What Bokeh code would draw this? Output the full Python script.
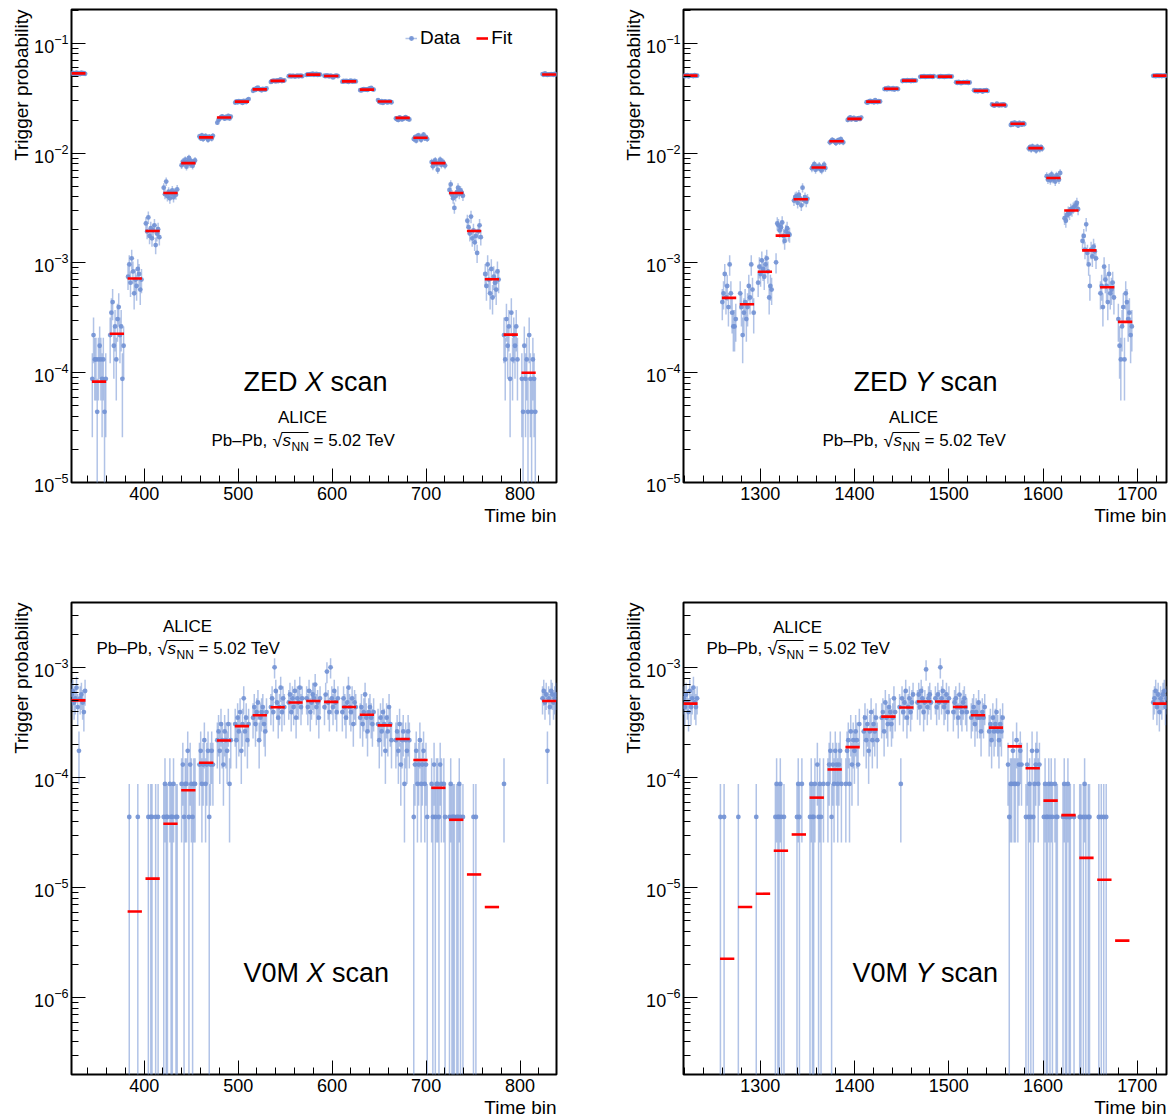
import math
from bokeh.plotting import figure
from bokeh.layouts import column, row
from bokeh.models import (ColumnDataSource, Label, Legend, LegendItem, FixedTicker,
                          SingleIntervalTicker, Range1d, Title)
from bokeh.embed import file_html
from bokeh.resources import INLINE

FONT = "Liberation Sans"
BLUE = "#7191d4"
RED = "#ff0000"

# one trigger count expressed as probability (value = counts * COUNT_UNIT)
COUNT_UNIT = 4.4e-5
BINS_PER_STEP = 12
BIN_PITCH = 1.3

# ------------------------------------------------------------------ data
# ZED X scan (first and last entries: reference head-on steps)
zedx_centers = [330, 352, 371, 390, 409, 428, 447, 466, 485, 504, 523, 542, 561, 580,
                599, 618, 637, 656, 675, 694, 713, 732, 751, 770, 790, 809, 831]
zedx_fit = [0.0532, 8.3e-5, 2.26e-4, 7.2e-4, 1.95e-3, 4.33e-3, 8.1e-3, 1.39e-2, 2.11e-2,
            2.94e-2, 3.80e-2, 4.54e-2, 5.03e-2, 5.18e-2, 5.03e-2, 4.50e-2, 3.78e-2,
            2.95e-2, 2.09e-2, 1.38e-2, 8.1e-3, 4.33e-3, 1.95e-3, 7.1e-4, 2.22e-4, 1.0e-4, 0.052]
zedx_counts = [
    [1195, 1220, 1210, 1185, 1230, 1205, 1215, 1190, 1225, 1200, 1212, 1198],
    [2, 5, 3, 3, 1, 3, 4, 3, 2, 3, 1, 2],
    [5, 8, 10, 4, 6, 3, 7, 9, 5, 6, 2, 4],
    [17, 22, 15, 25, 19, 12, 16, 14, 20, 18, 13, 16],
    [52, 44, 59, 40, 47, 38, 45, 50, 33, 42, 46, 39],
    [110, 96, 125, 92, 101, 88, 97, 104, 90, 99, 95, 106],
    [176, 190, 184, 198, 171, 188, 205, 180, 192, 174, 186, 195],
    [322, 310, 330, 305, 318, 325, 312, 300, 320, 314, 308, 326],
    [430, 455, 470, 482, 490, 478, 468, 485, 475, 495, 470, 488],
    [655, 670, 660, 675, 665, 672, 650, 680, 668, 662, 690, 705],
    [840, 870, 855, 885, 895, 870, 860, 848, 875, 865, 858, 880],
    [1010, 1025, 1040, 1035, 1020, 1045, 1030, 1050, 1065, 1028, 1038, 1042],
    [1140, 1150, 1135, 1145, 1148, 1130, 1142, 1155, 1138, 1145, 1150, 1140],
    [1170, 1185, 1175, 1190, 1180, 1200, 1175, 1185, 1195, 1170, 1180, 1178],
    [1150, 1140, 1160, 1145, 1135, 1150, 1142, 1110, 1138, 1148, 1155, 1140],
    [1015, 1030, 1020, 1035, 1025, 1010, 1028, 1040, 1018, 1022, 1030, 1020],
    [850, 845, 862, 870, 858, 865, 855, 872, 880, 890, 868, 860],
    [690, 665, 660, 675, 650, 668, 672, 662, 658, 670, 665, 660],
    [470, 462, 455, 480, 472, 460, 468, 475, 482, 470, 465, 460],
    [305, 318, 295, 325, 330, 312, 300, 320, 335, 310, 318, 305],
    [188, 172, 190, 195, 180, 160, 185, 198, 178, 190, 182, 175],
    [105, 118, 95, 88, 72, 92, 100, 110, 96, 104, 99, 93],
    [55, 48, 42, 60, 38, 45, 35, 40, 28, 44, 50, 39],
    [18, 14, 22, 16, 12, 20, 11, 17, 15, 13, 19, 16],
    [5, 3, 7, 4, 6, 2, 8, 3, 5, 4, 6, 3],
    [2, 1, 4, 2, 3, 1, 5, 2, 1, 3, 2, 1],
    [1190, 1175, 1205, 1180, 1170, 1185, 1178, 1190, 1182, 1175, 1195, 1180],
]

# ZED Y scan
zedy_centers = [1226, 1267, 1286, 1305, 1324, 1343, 1362, 1381, 1400, 1420, 1439, 1458, 1477,
                1496, 1515, 1534, 1553, 1573, 1592, 1611, 1630, 1649, 1668, 1687, 1724]
zedy_fit = [0.0507, 4.8e-4, 4.2e-4, 8.3e-4, 1.77e-3, 3.8e-3, 7.4e-3, 1.28e-2, 2.05e-2, 2.94e-2,
            3.85e-2, 4.57e-2, 4.97e-2, 4.97e-2, 4.4e-2, 3.7e-2, 2.75e-2, 1.85e-2, 1.11e-2,
            5.93e-3, 3.0e-3, 1.3e-3, 6.0e-4, 2.9e-4, 0.0507]
zedy_counts = [
    [1150, 1140, 1160, 1165, 1138, 1148, 1155, 1150, 1142, 1162, 1148, 1152],
    [10, 12, 18, 11, 14, 9, 22, 12, 8, 6, 6, 7],
    [12, 9, 5, 8, 10, 7, 9, 14, 11, 22, 13, 8],
    [15, 21, 18, 24, 20, 17, 22, 25, 19, 11, 14, 13],
    [23, 52, 50, 45, 48, 53, 40, 36, 44, 47, 42, 41],
    [84, 90, 92, 80, 95, 88, 76, 110, 85, 90, 82, 87],
    [165, 172, 180, 160, 170, 168, 175, 162, 158, 170, 178, 166],
    [285, 290, 300, 295, 288, 280, 292, 298, 286, 305, 290, 285],
    [455, 470, 480, 460, 468, 475, 462, 458, 470, 472, 465, 478],
    [660, 655, 670, 680, 665, 672, 660, 690, 668, 662, 675, 670],
    [870, 880, 865, 890, 872, 878, 868, 885, 860, 875, 880, 870],
    [1030, 1045, 1040, 1035, 1050, 1038, 1042, 1030, 1048, 1036, 1044, 1040],
    [1125, 1135, 1128, 1140, 1122, 1130, 1135, 1128, 1140, 1132, 1125, 1138],
    [1130, 1125, 1140, 1135, 1128, 1122, 1135, 1130, 1138, 1142, 1128, 1132],
    [1005, 990, 1010, 1000, 985, 995, 1008, 1002, 996, 1012, 990, 1000],
    [850, 835, 845, 830, 840, 848, 838, 825, 845, 840, 852, 836],
    [630, 620, 615, 625, 640, 622, 618, 628, 620, 632, 626, 615],
    [410, 425, 415, 430, 418, 422, 405, 428, 420, 412, 425, 418],
    [250, 258, 245, 262, 248, 255, 240, 260, 252, 246, 258, 250],
    [140, 130, 138, 128, 145, 132, 135, 125, 142, 138, 130, 150],
    [58, 55, 62, 66, 64, 70, 68, 72, 74, 76, 80, 70],
    [36, 40, 30, 51, 28, 22, 14, 30, 26, 32, 29, 25],
    [12, 14, 9, 21, 16, 14, 10, 18, 12, 13, 15, 11],
    [7, 4, 3, 6, 9, 3, 12, 10, 7, 8, 5, 6],
    [1148, 1155, 1140, 1160, 1150, 1145, 1158, 1142, 1152, 1148, 1156, 1150],
]

# V0M X scan (None: no fit drawn)
v0mx_centers = zedx_centers
v0mx_fit = [5.06e-4, None, None, 6.08e-6, 1.21e-5, 3.82e-5, 7.7e-5, 1.37e-4, 2.18e-4, 2.95e-4,
            3.7e-4, 4.38e-4, 4.84e-4, 5.0e-4, 4.9e-4, 4.4e-4, 3.75e-4, 3.0e-4, 2.25e-4,
            1.45e-4, 8.1e-5, 4.15e-5, 1.32e-5, 6.67e-6, None, None, 5.0e-4]
v0mx_counts = [
    [13, 14, 11, 12, 15, 10, 4, 12, 13, 11, 9, 14],
    [0, 0, 0, 0, 0, 0, 0, 0, 0, 0, 0, 0],
    [0, 0, 0, 0, 0, 0, 0, 0, 0, 0, 0, 0],
    [0, 1, 0, 0, 0, 0, 0, 0, 1, 0, 0, 0],
    [0, 0, 1, 0, 1, 1, 0, 0, 1, 0, 1, 0],
    [1, 2, 1, 1, 0, 2, 1, 1, 2, 0, 1, 1],
    [2, 3, 1, 2, 2, 4, 1, 3, 2, 1, 2, 2],
    [3, 4, 2, 3, 5, 2, 3, 4, 1, 3, 4, 3],
    [5, 6, 4, 7, 5, 3, 6, 5, 4, 7, 2, 5],
    [7, 5, 8, 6, 9, 4, 7, 12, 6, 8, 5, 7],
    [8, 10, 7, 9, 11, 5, 8, 9, 10, 7, 6, 9],
    [10, 12, 9, 23, 14, 11, 8, 10, 15, 9, 12, 10],
    [11, 13, 9, 12, 10, 14, 8, 12, 11, 15, 10, 12],
    [12, 10, 14, 9, 11, 13, 12, 16, 10, 11, 8, 12],
    [10, 13, 21, 11, 9, 23, 12, 10, 14, 11, 9, 12],
    [9, 12, 10, 8, 11, 15, 10, 9, 12, 7, 11, 10],
    [8, 10, 7, 9, 13, 8, 6, 9, 10, 8, 7, 9],
    [7, 5, 8, 6, 9, 7, 4, 8, 6, 10, 7, 5],
    [5, 6, 4, 7, 3, 5, 6, 2, 5, 4, 6, 5],
    [1, 3, 4, 2, 3, 5, 2, 3, 4, 2, 3, 1],
    [2, 1, 3, 1, 2, 2, 1, 3, 2, 0, 2, 1],
    [1, 2, 1, 1, 1, 0, 1, 1, 2, 1, 0, 1],
    [0, 0, 0, 0, 0, 1, 0, 1, 0, 0, 0, 0],
    [0, 0, 0, 0, 0, 0, 0, 0, 0, 0, 0, 0],
    [2, 0, 0, 0, 0, 0, 0, 0, 0, 0, 0, 0],
    [0, 0, 0, 0, 0, 0, 0, 0, 0, 0, 0, 0],
    [12, 14, 11, 13, 4, 12, 10, 14, 13, 11, 12, 13],
]

# V0M Y scan
v0my_centers = [1226, 1265, 1284, 1303, 1322, 1341, 1360, 1379, 1398, 1417, 1436, 1455, 1474,
                1493, 1512, 1531, 1550, 1570, 1589, 1608, 1627, 1646, 1665, 1684, 1724]
v0my_fit = [4.73e-4, 2.26e-6, 6.68e-6, 8.82e-6, 2.17e-5, 3.05e-5, 6.6e-5, 1.19e-4, 1.9e-4,
            2.75e-4, 3.6e-4, 4.36e-4, 4.94e-4, 4.94e-4, 4.4e-4, 3.7e-4, 2.86e-4, 1.93e-4,
            1.22e-4, 6.2e-5, 4.57e-5, 1.87e-5, 1.18e-5, 3.3e-6, 4.73e-4]
v0my_counts = [
    [12, 10, 13, 11, 9, 14, 10, 12, 15, 11, 10, 12],
    [1, 0, 0, 1, 0, 0, 0, 0, 0, 0, 0, 0],
    [1, 0, 0, 0, 0, 0, 0, 0, 0, 0, 0, 0],
    [1, 0, 0, 0, 0, 0, 0, 0, 0, 0, 0, 0],
    [0, 1, 2, 1, 1, 2, 1, 0, 1, 0, 0, 0],
    [0, 0, 0, 0, 1, 2, 1, 0, 2, 0, 0, 0],
    [1, 2, 1, 1, 2, 0, 3, 1, 2, 1, 0, 2],
    [2, 3, 4, 1, 3, 2, 4, 3, 2, 3, 4, 2],
    [2, 4, 5, 2, 6, 3, 5, 4, 6, 5, 3, 7],
    [6, 8, 5, 7, 4, 6, 9, 5, 7, 6, 8, 5],
    [8, 9, 6, 11, 8, 7, 10, 9, 7, 8, 12, 9],
    [10, 2, 12, 9, 11, 14, 8, 10, 12, 9, 11, 13],
    [11, 13, 10, 14, 12, 9, 11, 22, 10, 12, 13, 11],
    [12, 10, 13, 11, 23, 12, 14, 10, 11, 13, 9, 12],
    [9, 11, 12, 10, 8, 13, 10, 9, 11, 12, 10, 9],
    [8, 9, 10, 7, 9, 8, 11, 8, 6, 9, 8, 10],
    [6, 7, 5, 8, 6, 7, 9, 6, 5, 7, 6, 8],
    [3, 1, 2, 2, 4, 2, 2, 5, 2, 3, 4, 3],
    [1, 3, 1, 2, 1, 4, 1, 2, 3, 4, 2, 3],
    [1, 2, 1, 1, 2, 1, 2, 1, 0, 2, 1, 1],
    [0, 1, 2, 1, 1, 2, 1, 1, 0, 0, 1, 0],
    [1, 1, 0, 1, 2, 1, 0, 1, 1, 0, 0, 0],
    [0, 1, 0, 1, 0, 1, 0, 1, 0, 0, 0, 0],
    [0, 0, 0, 0, 0, 0, 0, 0, 0, 0, 0, 0],
    [11, 12, 14, 10, 13, 9, 12, 11, 13, 14, 10, 12],
]

# axes
x_range_x = (322.7, 838.7)
x_range_y = (1218.7, 1730.9)
y_range_zed = (1e-5, 0.203)
y_range_v0m = (2.0e-7, 3.93e-3)
y_major_zed = [1e-5, 1e-4, 1e-3, 1e-2, 1e-1]
y_major_v0m = [1e-6, 1e-5, 1e-4, 1e-3]
x_title = "Time bin"
y_title = "Trigger probability"

BASELINE_SHIFT = 0.33   # Bokeh places the alphabetic baseline this many em lower


class Geom:
    def __init__(self, left, top, fw, fh, xr, yr):
        self.left, self.top, self.fw, self.fh = left, top, fw, fh
        self.x0, self.x1 = xr
        self.l0, self.l1 = math.log10(yr[0]), math.log10(yr[1])

    def px2x(self, px):
        return self.x0 + (px - self.left) * (self.x1 - self.x0) / self.fw

    def py2y(self, py):
        return 10 ** (self.l1 - (py - self.top) * (self.l1 - self.l0) / self.fh)


def minor_list(lo, hi):
    out = []
    e = math.floor(math.log10(lo))
    while 10 ** e <= hi:
        for k in range(2, 10):
            v = k * 10 ** e
            if lo <= v <= hi * 1.001:
                out.append(v)
        e += 1
    return out


def build(centers, fits, counts, xr, yr, majors, width, height, borders):
    bl, br, bt, bb = borders
    p = figure(width=width, height=height, x_range=Range1d(*xr), y_range=Range1d(*yr),
               y_axis_type="log", output_backend="svg", toolbar_location=None,
               min_border_left=bl, min_border_right=br, min_border_top=bt, min_border_bottom=bb)
    xs, ys, lo, hi = [], [], [], []
    half = (BINS_PER_STEP - 1) * BIN_PITCH / 2
    for c, cnts in zip(centers, counts):
        for i, n in enumerate(cnts):
            if n <= 0:
                continue
            v = n * COUNT_UNIT
            e = math.sqrt(n) * COUNT_UNIT
            xs.append(c - half + i * BIN_PITCH)
            ys.append(v)
            lo.append(max(v - e, 1e-12))
            hi.append(v + e)
    src = ColumnDataSource(dict(x=xs, y=ys, lo=lo, hi=hi))
    err = p.segment(x0="x", y0="lo", x1="x", y1="hi", source=src,
                    line_color=BLUE, line_alpha=0.55, line_width=1.5)
    pts = p.scatter("x", "y", source=src, marker="circle", size=4.8,
                    fill_color=BLUE, fill_alpha=0.9, line_color=None)
    fx0, fx1, fy = [], [], []
    for c, f in zip(centers, fits):
        if f is None:
            continue
        fx0.append(c - 7.6)
        fx1.append(c + 7.6)
        fy.append(f)
    fsrc = ColumnDataSource(dict(x0=fx0, x1=fx1, y=fy))
    fit = p.segment(x0="x0", y0="y", x1="x1", y1="y", source=fsrc,
                    line_color=RED, line_width=2.6)

    p.xgrid.visible = False
    p.ygrid.visible = False
    p.outline_line_color = "black"
    p.outline_line_width = 2
    p.background_fill_color = "white"
    p.border_fill_color = "white"
    p.xaxis.ticker = SingleIntervalTicker(interval=100, num_minor_ticks=5)
    p.yaxis.ticker = FixedTicker(ticks=majors, minor_ticks=minor_list(yr[0], yr[1]))
    for ax in p.xaxis + p.yaxis:
        ax.axis_line_color = None
        ax.major_tick_in = 14
        ax.major_tick_out = 0
        ax.minor_tick_in = 7
        ax.minor_tick_out = 0
        ax.major_tick_line_color = "black"
        ax.minor_tick_line_color = "black"
        ax.major_label_text_font = FONT
        ax.major_label_text_font_size = "18px"
        ax.major_label_text_color = "black"
    p.xaxis.major_label_standoff = 4
    p.yaxis.major_label_standoff = 3
    p.add_layout(Title(text=x_title, align="right", text_font=FONT, text_font_size="19px",
                       text_font_style="normal", text_color="black", standoff=0, offset=0),
                 "below")
    p.add_layout(Title(text=y_title, align="right", text_font=FONT, text_font_size="19px",
                       text_font_style="normal", text_color="black", standoff=0, offset=0),
                 "left")
    return p, pts, err, fit


def label(p, g, px, py, s, size, align="left", style="normal"):
    p.add_layout(Label(x=g.px2x(px), y=g.py2y(py - BASELINE_SHIFT * size), text=s,
                       text_font=FONT, text_font_size=f"{size}px", text_font_style=style,
                       text_align=align, text_baseline="alphabetic", text_color="black"))


def energy_line(p, g, x, base):
    label(p, g, x, base, "Pb\u2013Pb,", 17)
    label(p, g, x + 61, base, "\u221a", 18)
    label(p, g, x + 71, base, "s", 17, style="italic")
    label(p, g, x + 80, base + 4, "NN", 12)
    label(p, g, x + 102, base, "= 5.02 TeV", 17)
    p.segment(x0=[g.px2x(x + 70)], y0=[g.py2y(base - 14)], x1=[g.px2x(x + 97)],
              y1=[g.py2y(base - 14)], line_color="black", line_width=1.1)


def scan_label(p, g, x, base, det, axis_letter, shift):
    label(p, g, x, base, det, 27)
    label(p, g, x + shift, base, axis_letter, 27, style="italic")
    label(p, g, x + shift + 25.5, base, "scan", 27)


W1, W2, H1, H2 = 606, 563, 537, 580
g1 = Geom(71, 9, 485, 473, x_range_x, y_range_zed)
g2 = Geom(683, 9, 483, 473, x_range_y, y_range_zed)
g3 = Geom(71, 602, 485, 472, x_range_x, y_range_v0m)
g4 = Geom(683, 602, 483, 472, x_range_y, y_range_v0m)

p1, pts1, err1, fit1 = build(zedx_centers, zedx_fit, zedx_counts, x_range_x, y_range_zed,
                             y_major_zed, W1, H1, (71, 50, 9, 55))
p2, _, _, _ = build(zedy_centers, zedy_fit, zedy_counts, x_range_y, y_range_zed,
                    y_major_zed, W2, H1, (77, 3, 9, 55))
p3, _, _, _ = build(v0mx_centers, v0mx_fit, v0mx_counts, x_range_x, y_range_v0m,
                    y_major_v0m, W1, H2, (71, 50, 65, 43))
p4, _, _, _ = build(v0my_centers, v0my_fit, v0my_counts, x_range_y, y_range_v0m,
                    y_major_v0m, W2, H2, (77, 3, 65, 43))

scan_label(p1, g1, 243, 390, "ZED", "X", 61.5)
scan_label(p2, g2, 853, 390, "ZED", "Y", 61.5)
scan_label(p3, g3, 243, 981.7, "V0M", "X", 63)
scan_label(p4, g4, 852, 981.7, "V0M", "Y", 63)

label(p1, g1, 302, 423, "ALICE", 17, align="center")
label(p2, g2, 913, 423, "ALICE", 17, align="center")
label(p3, g3, 187, 632, "ALICE", 17, align="center")
label(p4, g4, 797, 632.5, "ALICE", 17, align="center")
energy_line(p1, g1, 211, 446)
energy_line(p2, g2, 822, 446)
energy_line(p3, g3, 96, 654)
energy_line(p4, g4, 706, 654)

legend = Legend(items=[LegendItem(label="Data", renderers=[err1, pts1]),
                       LegendItem(label="Fit", renderers=[fit1])],
                orientation="horizontal", location=(334, 433), padding=0, margin=0,
                spacing=16, label_standoff=3, glyph_width=12, glyph_height=16,
                label_height=20, label_text_font=FONT, label_text_font_size="19px",
                label_text_color="black", background_fill_alpha=0, border_line_alpha=0)
p1.add_layout(legend)

layout = column(row(p1, p2), row(p3, p4))
open("out.html", "w").write(file_html(layout, INLINE))
